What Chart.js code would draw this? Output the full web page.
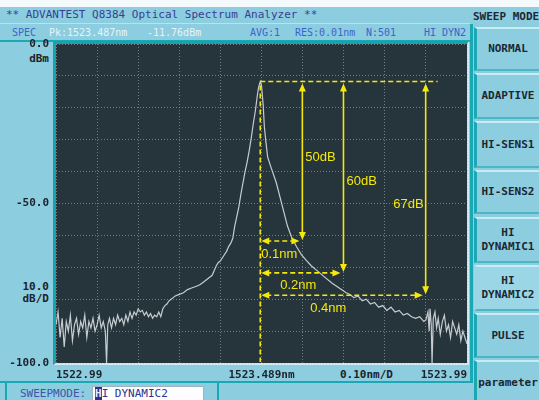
<!DOCTYPE html>
<html>
<head>
<meta charset="utf-8">
<title>Q8384 spectrum</title>
<script src="https://cdn.jsdelivr.net/npm/chart.js@4.4.1/dist/chart.umd.min.js"></script>
<style>
  html, body { margin:0; padding:0; }
  body { width:539px; height:400px; overflow:hidden; position:relative; background:#8ccde0;
         font-family:'DejaVu Sans Mono', monospace; }
  .abs { position:absolute; white-space:pre; }
  #topband { left:0; top:0; width:539px; height:7px; background:#f4fafc; }
  #title { left:6px; top:8px; font-size:11px; line-height:14px; color:#3a3e92; }
  #status { left:0; top:23px; width:470px; height:16px; border-top:1px solid #b6e3ee; }
  #status span { position:absolute; top:3px; font-size:10px; line-height:12px; white-space:pre; }
  .blue { color:#3d63c9; }
  .pale { color:#e6f4fa; }
  .teal { background:#1aa9b4; }
  #plot { left:53px; top:41px; width:411px; height:319px; background:#26343b;
          border-left:3px solid #17a3ad; border-top:3px solid #17a3ad;
          border-right:2px solid #d4eaf0; border-bottom:2px solid #d4eaf0; }
  .lab { font-size:11px; font-weight:bold; color:#1d2329; line-height:12px; }
  #smode { left:473px; top:10px; font-size:11px; font-weight:bold; color:#1e2830; line-height:14px; }
  .btn { position:absolute; left:474px; width:65px; box-sizing:border-box;
         border-left:3px solid #1aa9b4; border-top:2px solid #c6edf6; border-bottom:2px solid #4db6c2;
         background:#8ccde0; display:flex; align-items:center; justify-content:center; text-align:center;
         font-size:11px; font-weight:bold; color:#1d2730; line-height:14px; }
  .btn.sel { border-left-color:#9ad6e6; background:#9ad6e6; }
  #bband { left:5px; top:383px; width:210px; height:20px; border-left:2px solid #1aa9b4; border-right:2px solid #1aa9b4; }
  #smlabel { left:20px; top:387px; font-size:11px; line-height:13px; color:#4651a6; }
  #smbox { left:92px; top:386px; width:112px; height:16px; background:#fdfdff; border:1px solid #9fb4c0;
           font-size:11px; line-height:14px; color:#2d3490; padding-left:2px; box-sizing:border-box; }
  #smbox b { background:#2c3590; color:#e8ecff; font-weight:bold; }
  canvas { position:absolute; left:0; top:0; }
</style>
</head>
<body>
<div class="abs" id="topband"></div>
<div class="abs" id="title">** ADVANTEST Q8384 Optical Spectrum Analyzer **</div>
<div class="abs" id="status">
  <span class="blue" style="left:12px">SPEC</span>
  <span class="pale" style="left:49px">Pk:1523.487nm</span>
  <span class="pale" style="left:147px">-11.76dBm</span>
  <span class="blue" style="left:250px">AVG:1</span>
  <span class="blue" style="left:295px">RES:0.01nm</span>
  <span class="blue" style="left:366px">N:501</span>
  <span class="blue" style="left:424px">HI DYN2</span>
</div>
<div class="abs teal" style="left:0;top:40px;width:472px;height:2px"></div>
<div class="abs teal" style="left:470px;top:24px;width:3px;height:359px"></div>
<div class="abs teal" style="left:0;top:381px;width:473px;height:2px"></div>
<div class="abs" id="plot"></div>

<div class="abs lab" style="right:490px;top:53px">dBm</div>
<div class="abs lab" style="right:490px;top:281px">10.0</div>
<div class="abs lab" style="right:490px;top:293px">dB/D</div>
<div class="abs lab" style="left:340px;top:369px">0.10nm/D</div>

<div class="abs" id="smode">SWEEP MODE</div>
<div class="btn" style="top:27px;height:44px">NORMAL</div>
<div class="btn" style="top:73px;height:46px">ADAPTIVE</div>
<div class="btn" style="top:121px;height:47px">HI-SENS1</div>
<div class="btn" style="top:170px;height:44px">HI-SENS2</div>
<div class="btn" style="top:217px;height:46px">HI<br>DYNAMIC1</div>
<div class="btn sel" style="top:265px;height:46px">HI<br>DYNAMIC2</div>
<div class="btn" style="top:313px;height:45px">PULSE</div>
<div class="btn" style="top:360px;height:46px">parameter</div>

<div class="abs" id="bband"></div>
<div class="abs" id="smlabel">SWEEPMODE:</div>
<div class="abs" id="smbox"><b>H</b>I DYNAMIC2</div>

<canvas id="osa" width="539" height="400"></canvas>

<script>
// --- trace (nm, dBm) ---
const wavelengths = [
  1522.990, 1522.995, 1523.000, 1523.005, 1523.010, 1523.015, 1523.020, 1523.025, 1523.030, 1523.035,
  1523.040, 1523.045, 1523.050, 1523.055, 1523.060, 1523.065, 1523.070, 1523.075, 1523.080, 1523.085,
  1523.090, 1523.095, 1523.100, 1523.105, 1523.110, 1523.113, 1523.116, 1523.120, 1523.125, 1523.130,
  1523.135, 1523.140, 1523.145, 1523.150, 1523.155, 1523.160, 1523.165, 1523.170, 1523.175, 1523.180,
  1523.185, 1523.190, 1523.195, 1523.200, 1523.205, 1523.210, 1523.215, 1523.220, 1523.225, 1523.230,
  1523.235, 1523.240, 1523.245, 1523.250, 1523.255, 1523.260, 1523.265, 1523.270, 1523.275, 1523.280,
  1523.290, 1523.300, 1523.310, 1523.320, 1523.330, 1523.340, 1523.350, 1523.360, 1523.370, 1523.375,
  1523.380, 1523.385, 1523.390, 1523.395, 1523.400, 1523.405, 1523.410, 1523.415, 1523.420, 1523.425,
  1523.430, 1523.435, 1523.440, 1523.445, 1523.450, 1523.455, 1523.460, 1523.465, 1523.470, 1523.475,
  1523.480, 1523.483, 1523.487, 1523.490, 1523.494, 1523.497, 1523.501, 1523.505, 1523.514, 1523.526,
  1523.541, 1523.553, 1523.563, 1523.575, 1523.587, 1523.599, 1523.611, 1523.623, 1523.643, 1523.662,
  1523.679, 1523.696, 1523.705, 1523.715, 1523.725, 1523.735, 1523.745, 1523.755, 1523.765, 1523.775,
  1523.785, 1523.795, 1523.805, 1523.815, 1523.825, 1523.835, 1523.845, 1523.855, 1523.865, 1523.875,
  1523.885, 1523.890, 1523.895, 1523.898, 1523.900, 1523.903, 1523.905, 1523.908, 1523.912, 1523.916,
  1523.920, 1523.925, 1523.930, 1523.935, 1523.940, 1523.945, 1523.950, 1523.955, 1523.960, 1523.965,
  1523.970, 1523.975, 1523.980, 1523.985, 1523.990
];
const levels = [
  -88, -84, -92, -86, -95, -87, -90, -85, -93, -88,
  -86, -91, -87, -89, -85, -92, -87, -89, -86, -90,
  -88, -85, -89, -87, -90, -100, -88, -86, -89, -86,
  -88, -85, -87, -86, -88, -85, -87, -84, -86, -84,
  -85, -83, -84, -83.5, -85, -84, -85.5, -84.5, -86, -85,
  -85.5, -84, -85.5, -83, -82, -81.5, -80.5, -80, -79.5, -79,
  -78.5, -78, -77, -76.5, -76, -75.5, -74.5, -73.5, -72.5, -71,
  -69.5, -68.5, -68, -67, -66, -65, -63.5, -62.5, -61, -57,
  -54, -51, -47, -43.5, -40, -37, -33.5, -29.5, -25, -21,
  -16, -13.5, -11.76, -13, -19, -26, -31, -35.5, -39, -43.5,
  -51, -57, -60.5, -63.5, -66, -67.8, -69.5, -70.8, -73, -75,
  -76.5, -78, -78.5, -79.5, -79, -80.5, -80, -81.5, -81, -82.5,
  -82, -83.5, -82.5, -84, -83.5, -85, -84.5, -85.5, -86, -85.5,
  -87, -86.5, -84, -90, -83, -88, -100, -86, -84, -89,
  -86, -91, -87, -85, -90, -88, -92, -87, -89, -91,
  -88, -93, -90, -92, -94
];

// axis ticks
const xTickValues = [1522.99, 1523.09, 1523.19, 1523.29, 1523.39, 1523.49, 1523.59, 1523.69, 1523.79, 1523.89, 1523.99];
const xTickLabels = ['1522.99', '', '', '', '', '1523.489nm', '', '', '', '', '1523.99'];
const yTickValues = [0, -10, -20, -30, -40, -50, -60, -70, -80, -90, -100];
const yTickLabels = ['0.0', '', '', '', '', '-50.0', '', '', '', '', '-100.0'];

// peak and the marked widths below it
const peakWl = 1523.487;
const peakLevel = -11.76;
const markSpans = [0.1, 0.2, 0.4];   // nm from peak
const markDrops = [50, 60, 67];      // dB below peak

const YELLOW = '#f4e80c';

function arrowHead(ctx, x, y, dir) {
    const L = 8, W = 3.5;
    ctx.beginPath();
    ctx.moveTo(x, y);
    if (dir === 'up')    { ctx.lineTo(x - W, y + L); ctx.lineTo(x + W, y + L); }
    if (dir === 'down')  { ctx.lineTo(x - W, y - L); ctx.lineTo(x + W, y - L); }
    if (dir === 'left')  { ctx.lineTo(x + L, y - W); ctx.lineTo(x + L, y + W); }
    if (dir === 'right') { ctx.lineTo(x - L, y - W); ctx.lineTo(x - L, y + W); }
    ctx.closePath();
    ctx.fill();
}
function seg(ctx, x1, y1, x2, y2) {
    ctx.beginPath();
    ctx.moveTo(x1, y1);
    ctx.lineTo(x2, y2);
    ctx.stroke();
}

// yellow dashed markers and labels, placed through the scales
const markPlugin = {
    id: 'peakMarks',
    afterDatasetsDraw(chart) {
        const { ctx, scales: { x, y } } = chart;
        const px = x.getPixelForValue(peakWl);
        const py = y.getPixelForValue(peakLevel);
        const lastX = x.getPixelForValue(peakWl + markSpans[markSpans.length - 1]);
        ctx.save();
        ctx.strokeStyle = YELLOW;
        ctx.fillStyle = YELLOW;
        ctx.lineWidth = 1.6;
        ctx.setLineDash([5, 3]);
        seg(ctx, px, py, lastX + 13, py);
        seg(ctx, px, py + 4, px, y.bottom - 1);
        ctx.font = '13px "Liberation Sans", Arial, sans-serif';
        ctx.textBaseline = 'middle';
        // label nudges, by hand
        const dbDy = [-4, 4, 16];
        const nmDx = [1, 20, 50];
        markSpans.forEach((span, i) => {
            const ex = x.getPixelForValue(peakWl + span);
            const ly = y.getPixelForValue(peakLevel - markDrops[i]);
            ctx.setLineDash([5, 3]);
            seg(ctx, px + 6, ly, ex - 8, ly);
            ctx.setLineDash([]);
            arrowHead(ctx, px + 1, ly, 'left');
            arrowHead(ctx, ex - 2, ly, 'right');
            seg(ctx, ex + 1, py + 8, ex + 1, ly - 8);
            arrowHead(ctx, ex + 1, py + 2, 'up');
            arrowHead(ctx, ex + 1, ly - 1, 'down');
            const mid = (py + ly) / 2 + dbDy[i];
            if (i < markSpans.length - 1) {
                ctx.textAlign = 'left';
                ctx.fillText(markDrops[i] + 'dB', ex + 4, mid);
            } else {
                ctx.textAlign = 'right';
                ctx.fillText(markDrops[i] + 'dB', ex - 1, mid);
            }
            ctx.textAlign = 'left';
            ctx.fillText(span.toFixed(1) + 'nm', px + nmDx[i], ly + 13);
        });
        ctx.restore();
    }
};

const labelFont = { family: 'DejaVu Sans Mono', size: 11, weight: 'bold' };

new Chart(document.getElementById('osa').getContext('2d'), {
    type: 'line',
    data: {
        datasets: [{
            data: wavelengths.map((w, i) => ({ x: w, y: levels[i] })),
            borderColor: '#c6ccd0',
            borderWidth: 1.2,
            pointRadius: 0,
            tension: 0
        }]
    },
    options: {
        responsive: false,
        animation: false,
        layout: { padding: { top: 44, right: 72, bottom: 0, left: 0 } },
        plugins: { legend: { display: false }, tooltip: { enabled: false } },
        scales: {
            x: {
                type: 'linear', min: 1522.99, max: 1523.99,
                afterBuildTicks: s => { s.ticks = xTickValues.map(v => ({ value: v })); },
                afterFit: s => { s.height = 37; },
                grid: { color: 'rgba(175,185,190,0.55)', lineWidth: 1, drawTicks: false },
                border: { display: false, dash: [1, 2] },
                ticks: {
                    autoSkip: false, maxRotation: 0, align: 'inner', padding: 6,
                    color: '#1d2329', font: labelFont,
                    callback: (v, i) => xTickLabels[i]
                }
            },
            y: {
                min: -100, max: 0,
                afterBuildTicks: s => { s.ticks = yTickValues.map(v => ({ value: v })); },
                afterFit: s => { s.width = 56; },
                grid: { color: 'rgba(175,185,190,0.55)', lineWidth: 1, drawTicks: false },
                border: { display: false, dash: [1, 2] },
                ticks: {
                    autoSkip: false, padding: 7,
                    color: '#1d2329', font: labelFont,
                    callback: (v, i) => yTickLabels[i]
                }
            }
        }
    },
    plugins: [markPlugin]
});
</script>
</body>
</html>
